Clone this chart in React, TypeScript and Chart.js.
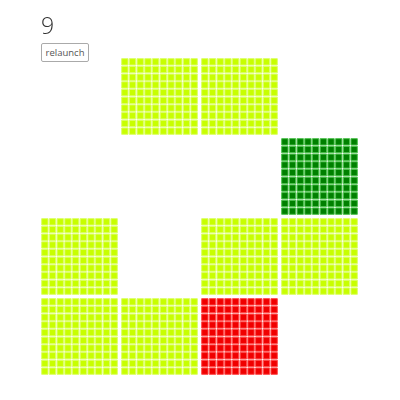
import React, { useEffect, useRef } from "react";
import { Chart, registerables } from "chart.js";

Chart.register(...registerables);

// 4x4 grid of blocks: 0 = empty, 1 = lime, 2 = green, 3 = red
const blockRows: number[][] = [
  [0, 1, 1, 0],
  [0, 0, 0, 2],
  [1, 0, 1, 1],
  [1, 1, 3, 0],
];
const cellsPerBlock = 10;
const blockGap = 0.39; // gap between blocks, in cell units
const titleText = "9";
const buttonLabel = "relaunch";

const fillColors: Record<number, string> = {
  1: "#c8ff00",
  2: "#008000",
  3: "#f00000",
};
const borderColors: Record<number, string> = {
  1: "#dcff66",
  2: "#4cc24c",
  3: "#ff4a4a",
};

function buildDatasets() {
  const kinds = [1, 2, 3];
  return kinds.map((kind) => {
    const pts: { x: number; y: number }[] = [];
    blockRows.forEach((row, r) => {
      row.forEach((v, c) => {
        if (v !== kind) return;
        for (let i = 0; i < cellsPerBlock; i++) {
          for (let j = 0; j < cellsPerBlock; j++) {
            pts.push({
              x: c * (cellsPerBlock + blockGap) + i + 0.5,
              y: r * (cellsPerBlock + blockGap) + j + 0.5,
            });
          }
        }
      });
    });
    return {
      data: pts,
      pointStyle: "rect" as const,
      pointRadius: 4.5,
      pointHoverRadius: 4.5,
      backgroundColor: fillColors[kind],
      borderColor: borderColors[kind],
      borderWidth: 1,
    };
  });
}

export default function App() {
  const ref = useRef<HTMLCanvasElement | null>(null);
  useEffect(() => {
    if (!ref.current) return;
    const extent = 4 * cellsPerBlock + 3 * blockGap;
    const chart = new Chart(ref.current, {
      type: "scatter",
      data: { datasets: buildDatasets() },
      options: {
        animation: false,
        responsive: false,
        events: [],
        layout: { padding: { left: 41, top: 58, right: 42, bottom: 25 } },
        plugins: { legend: { display: false }, tooltip: { enabled: false } },
        scales: {
          x: { type: "linear", min: 0, max: extent, display: false },
          y: { type: "linear", min: 0, max: extent, reverse: true, display: false },
        },
      },
    });
    return () => chart.destroy();
  }, []);

  return (
    <div style={{ position: "absolute", left: 0, top: 0, width: 400, height: 400 }}>
      <canvas ref={ref} width={400} height={400} style={{ position: "absolute", left: 0, top: 0 }} />
      <div
        style={{
          position: "absolute",
          left: 41,
          top: 11,
          fontFamily: "'Open Sans', sans-serif",
          fontWeight: 300,
          fontSize: 23,
          color: "#333",
          lineHeight: "28px",
        }}
      >
        {titleText}
      </div>
      <button
        style={{
          position: "absolute",
          left: 41,
          top: 43,
          width: 48,
          height: 19,
          padding: 0,
          fontFamily: "'Open Sans', sans-serif",
          fontSize: 9.5,
          color: "#555",
          background: "#fff",
          border: "1px solid #aaa",
          borderRadius: 2,
        }}
      >
        {buttonLabel}
      </button>
    </div>
  );
}
